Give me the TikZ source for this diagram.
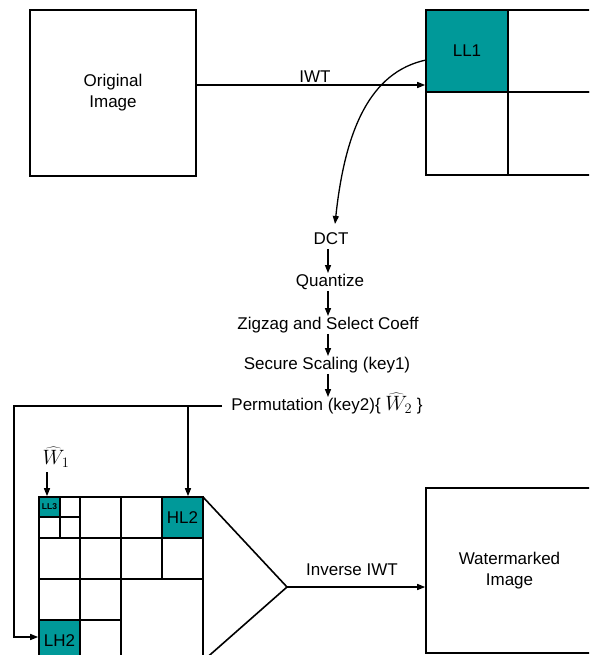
\documentclass[tikz,border=0pt]{standalone}
\usepackage{fontspec}
\setmainfont{Liberation Sans}
\usetikzlibrary{arrows.meta}
\definecolor{tealc}{RGB}{0,153,153}
\newcommand{\bigmath}[1]{{\fontsize{21}{24}\selectfont$#1$}}
\begin{document}
\begin{tikzpicture}[x=1pt,y=-1pt,
  every node/.style={font=\fontsize{17}{21}\selectfont},
  box/.style={draw, line width=1.6pt},
  gridline/.style={line width=1.6pt},
  cell/.style={draw, line width=1.6pt, fill=tealc, inner sep=0pt},
  arr/.style={-{Triangle[length=8pt,width=6pt]}, line width=1.3pt},
  lbl/.style={inner sep=1pt, text height=12pt, text depth=3.5pt}]
\useasboundingbox (0,0) rectangle (589,655);
\clip (0,0) rectangle (589,655);

% original image
\node[box, minimum width=166pt, minimum height=166pt, align=center, inner sep=0pt] (orig) at (113,93) {Original\\Image};

% top-right IWT grid
\node[cell, minimum width=82pt, minimum height=82pt] (ll1) at (467,51) {LL1};
\draw[gridline] (508,10) rectangle (592,92);
\draw[gridline] (426,92) rectangle (508,175);
\draw[gridline] (508,92) rectangle (592,175);

% IWT arrow
\coordinate (iwty) at (0,85);
\draw[arr] (orig.east |- iwty) -- (ll1.west |- iwty);
\node[inner sep=0pt] (iwtlbl) at (315,76.5) {IWT};

% curve from LL1 to DCT
\coordinate (cstart) at (426,60);
\coordinate (cend) at (335,224);
\draw[arr] (cstart) .. controls (370,72) and (345,130) .. (cend);

% processing chain
\coordinate (xcol) at (328,0);
\node[lbl] (dct) at (331,240) {DCT};
\node[lbl] (quant) at (330,282) {Quantize};
\node[lbl] (zig) at (328,325) {Zigzag and Select Coeff};
\node[lbl] (sec) at (327,365) {Secure Scaling (key1)};
\node[lbl] (perm) at (327,406) {Permutation (key2)\{ \bigmath{\widehat{W}_2} \}};
\draw[arr] (dct.south -| xcol) -- (quant.north -| xcol);
\draw[arr] (quant.south -| xcol) -- (zig.north -| xcol);
\draw[arr] (zig.south -| xcol) -- (sec.north -| xcol);
\draw[arr] (sec.south -| xcol) -- (perm.north -| xcol);

% bottom multi-level grid
\node[cell, minimum width=21pt, minimum height=20pt, font=\fontsize{8.5}{9}\selectfont\bfseries] (ll3) at (49.5,507) {LL3};
\node[cell, minimum width=41pt, minimum height=41pt] (hl2) at (182.5,517.5) {HL2};
\node[cell, minimum width=41pt, minimum height=41pt] (lh2) at (59.5,640.5) {LH2};
\draw[gridline] (39,497) rectangle (203,661);
\draw[gridline] (60,497) -- (60,538);
\draw[gridline] (80,497) -- (80,661);
\draw[gridline] (121,497) -- (121,661);
\draw[gridline] (162,497) -- (162,579);
\draw[gridline] (39,517) -- (80,517);
\draw[gridline] (39,538) -- (203,538);
\draw[gridline] (39,579) -- (203,579);
\draw[gridline] (39,620) -- (121,620);

% W1 hat
\node[inner sep=1pt] (w1) at (56,457) {\bigmath{\widehat{W}_1}};
\coordinate (w1x) at (47,0);
\coordinate (w1s) at (47,472);
\draw[arr] (w1s) -- (ll3.north -| w1x);

% permutation distribution lines
\coordinate (pl) at (14,406);
\coordinate (pb) at (14,637);
\coordinate (ph) at (188,406);
\draw[arr, shorten <=8pt] (perm.west) -- (pl) -- (pb) -- (lh2.west |- pb);
\draw[arr] (ph) -- (hl2.north -| ph);

% inverse IWT triangle
\coordinate (apex) at (287,587);
\draw[gridline] (203,497) -- (apex) -- (203,661);

% watermarked image
\node[box, minimum width=167pt, minimum height=165pt, align=center, inner sep=0pt] (wm) at (509.5,570.5) {Watermarked\\Image};
\draw[arr] (apex) -- (wm.west |- apex);
\node[inner sep=0pt] (invlbl) at (352,570) {Inverse IWT};
\end{tikzpicture}
\end{document}
